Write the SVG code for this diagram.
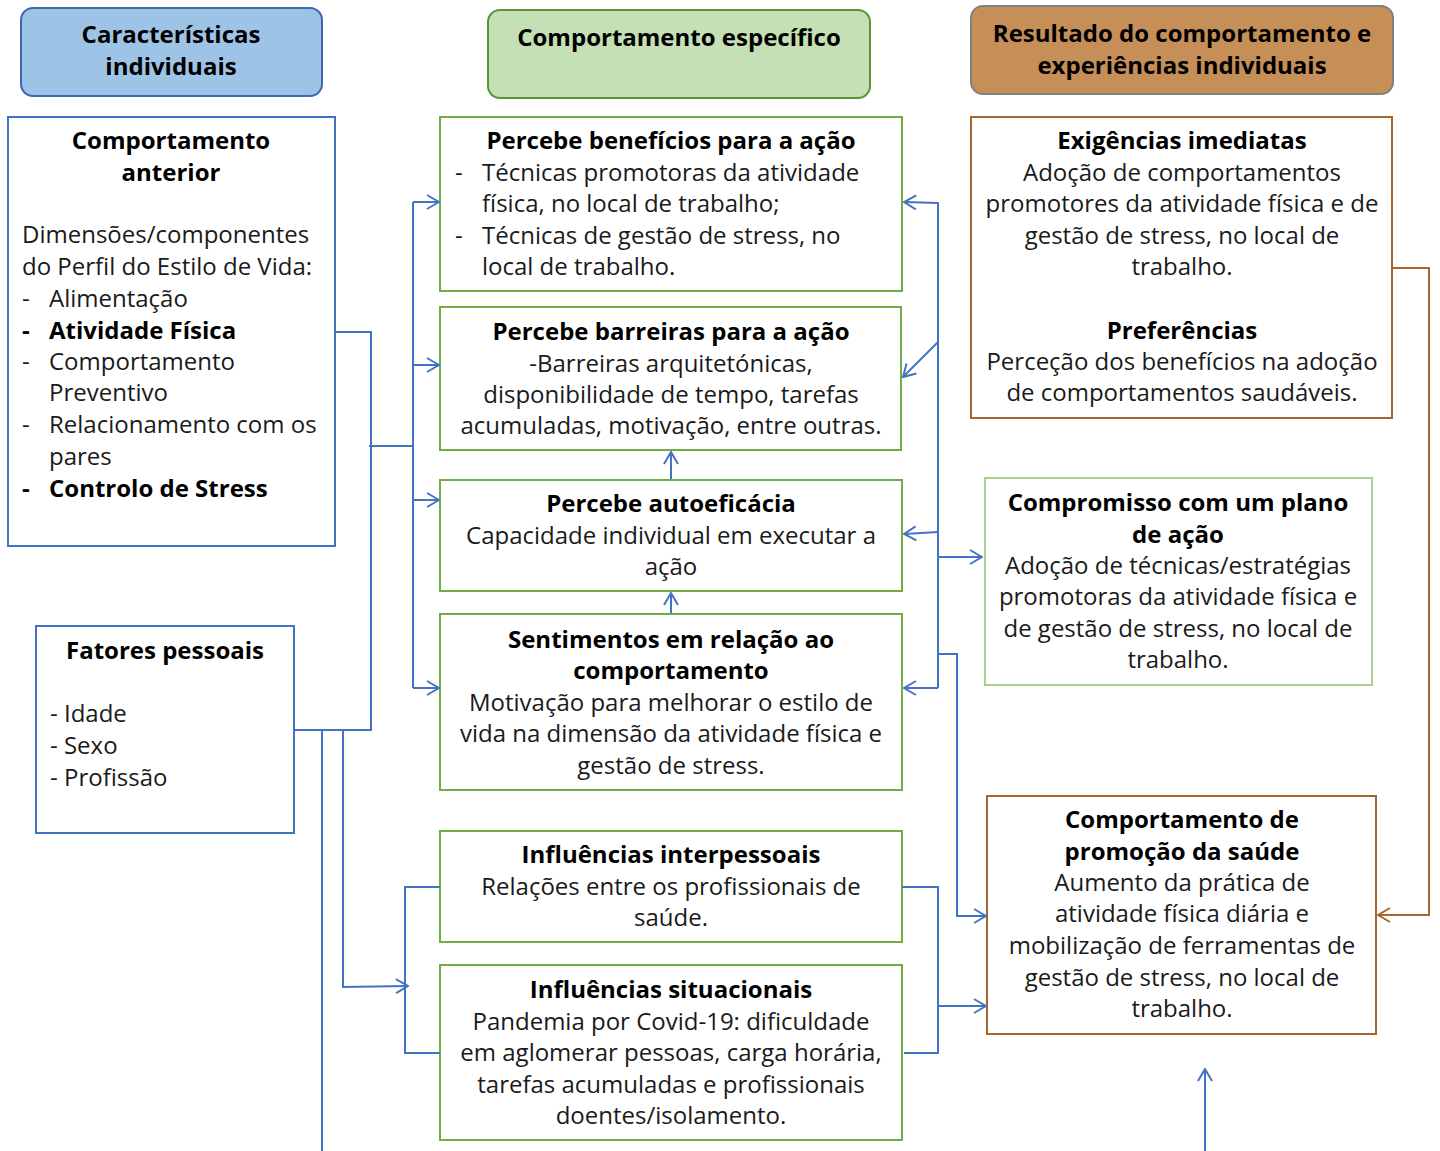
<svg xmlns="http://www.w3.org/2000/svg" width="1440" height="1151" viewBox="0 0 1440 1151">
<defs>
<marker id="ab" viewBox="0 0 14 16" refX="13" refY="8" markerWidth="14" markerHeight="16" markerUnits="userSpaceOnUse" orient="auto">
<path d="M1,1 L13,8 L1,15" fill="none" stroke="#4472c4" stroke-width="2"/>
</marker>
<marker id="ar" viewBox="0 0 14 16" refX="13" refY="8" markerWidth="14" markerHeight="16" markerUnits="userSpaceOnUse" orient="auto">
<path d="M1,1 L13,8 L1,15" fill="none" stroke="#a5662e" stroke-width="2"/>
</marker>
</defs>
<style>
text{font-family:"Open Sans","Noto Sans","DejaVu Sans",sans-serif;font-size:24px;fill:#1a1a1a}
.b{font-weight:bold;fill:#000}
.c{text-anchor:middle}
.hb{fill:#9dc3e6;stroke:#3d67b0;stroke-width:2}
.hg{fill:#c5e0b4;stroke:#5a9438;stroke-width:2}
.ho{fill:#c68f57;stroke:#808080;stroke-width:2}
.bb{fill:#fff;stroke:#4472c4;stroke-width:2}
.gb{fill:#fff;stroke:#70ad47;stroke-width:2}
.lg{fill:#fff;stroke:#a9d18e;stroke-width:2}
.ob{fill:#fff;stroke:#a5662e;stroke-width:2}
.cb{fill:none;stroke:#4472c4;stroke-width:2}
.co{fill:none;stroke:#a5662e;stroke-width:2}
</style>
<rect width="1440" height="1151" fill="#fff"/>

<g id="h1">
<rect class="hb" x="21" y="8" width="301" height="88" rx="12"/>
<text class="b c" x="171" y="43">Características</text>
<text class="b c" x="171" y="75">individuais</text>
</g>
<g id="h2">
<rect class="hg" x="488" y="10" width="382" height="88" rx="12"/>
<text class="b c" x="679" y="46">Comportamento específico</text>
</g>
<g id="h3">
<rect class="ho" x="971" y="6" width="422" height="88" rx="12"/>
<text class="b c" x="1182" y="42">Resultado do comportamento e</text>
<text class="b c" x="1182" y="74">experiências individuais</text>
</g>

<g id="anterior">
<rect class="bb" x="8" y="117" width="327" height="429"/>
<text class="b c" x="171" y="149">Comportamento</text>
<text class="b c" x="171" y="181">anterior</text>
<text x="22" y="243">Dimensões/componentes</text>
<text x="22" y="275">do Perfil do Estilo de Vida:</text>
<text x="22" y="307">-</text><text x="49" y="307">Alimentação</text>
<text class="b" x="22" y="339">-</text><text class="b" x="49" y="339">Atividade Física</text>
<text x="22" y="370">-</text><text x="49" y="370">Comportamento</text>
<text x="49" y="401">Preventivo</text>
<text x="22" y="433">-</text><text x="49" y="433">Relacionamento com os</text>
<text x="49" y="465">pares</text>
<text class="b" x="22" y="497">-</text><text class="b" x="49" y="497">Controlo de Stress</text>
</g>

<g id="fatores">
<rect class="bb" x="36" y="626" width="258" height="207"/>
<text class="b c" x="165" y="659">Fatores pessoais</text>
<text x="50" y="722">- Idade</text>
<text x="50" y="754">- Sexo</text>
<text x="50" y="786">- Profissão</text>
</g>

<g id="beneficios">
<rect class="gb" x="440" y="117" width="462" height="174"/>
<text class="b c" x="671" y="149">Percebe benefícios para a ação</text>
<text x="455" y="181">-</text><text x="482" y="181">Técnicas promotoras da atividade</text>
<text x="482" y="212">física, no local de trabalho;</text>
<text x="455" y="244">-</text><text x="482" y="244">Técnicas de gestão de stress, no</text>
<text x="482" y="275">local de trabalho.</text>
</g>

<g id="barreiras">
<rect class="gb" x="440" y="307" width="461" height="143"/>
<text class="b c" x="671" y="340">Percebe barreiras para a ação</text>
<text class="c" x="671" y="372">-Barreiras arquitetónicas,</text>
<text class="c" x="671" y="403">disponibilidade de tempo, tarefas</text>
<text class="c" x="671" y="434">acumuladas, motivação, entre outras.</text>
</g>

<g id="autoeficacia">
<rect class="gb" x="440" y="480" width="462" height="111"/>
<text class="b c" x="671" y="512">Percebe autoeficácia</text>
<text class="c" x="671" y="544">Capacidade individual em executar a</text>
<text class="c" x="671" y="575">ação</text>
</g>

<g id="sentimentos">
<rect class="gb" x="440" y="614" width="462" height="176"/>
<text class="b c" x="671" y="648">Sentimentos em relação ao</text>
<text class="b c" x="671" y="679">comportamento</text>
<text class="c" x="671" y="711">Motivação para melhorar o estilo de</text>
<text class="c" x="671" y="742">vida na dimensão da atividade física e</text>
<text class="c" x="671" y="774">gestão de stress.</text>
</g>

<g id="interpessoais">
<rect class="gb" x="440" y="831" width="462" height="111"/>
<text class="b c" x="671" y="863">Influências interpessoais</text>
<text class="c" x="671" y="895">Relações entre os profissionais de</text>
<text class="c" x="671" y="926">saúde.</text>
</g>

<g id="situacionais">
<rect class="gb" x="440" y="965" width="462" height="175"/>
<text class="b c" x="671" y="998">Influências situacionais</text>
<text class="c" x="671" y="1030">Pandemia por Covid-19: dificuldade</text>
<text class="c" x="671" y="1061">em aglomerar pessoas, carga horária,</text>
<text class="c" x="671" y="1093">tarefas acumuladas e profissionais</text>
<text class="c" x="671" y="1124">doentes/isolamento.</text>
</g>

<g id="exigencias">
<rect class="ob" x="971" y="117" width="421" height="301"/>
<text class="b c" x="1182" y="149">Exigências imediatas</text>
<text class="c" x="1182" y="181">Adoção de comportamentos</text>
<text class="c" x="1182" y="212">promotores da atividade física e de</text>
<text class="c" x="1182" y="244">gestão de stress, no local de</text>
<text class="c" x="1182" y="275">trabalho.</text>
<text class="b c" x="1182" y="339">Preferências</text>
<text class="c" x="1182" y="370">Perceção dos benefícios na adoção</text>
<text class="c" x="1182" y="401">de comportamentos saudáveis.</text>
</g>

<g id="compromisso">
<rect class="lg" x="985" y="478" width="387" height="207"/>
<text class="b c" x="1178" y="511">Compromisso com um plano</text>
<text class="b c" x="1178" y="543">de ação</text>
<text class="c" x="1178" y="574">Adoção de técnicas/estratégias</text>
<text class="c" x="1178" y="605">promotoras da atividade física e</text>
<text class="c" x="1178" y="637">de gestão de stress, no local de</text>
<text class="c" x="1178" y="668">trabalho.</text>
</g>

<g id="promocao">
<rect class="ob" x="987" y="796" width="389" height="238"/>
<text class="b c" x="1182" y="828">Comportamento de</text>
<text class="b c" x="1182" y="860">promoção da saúde</text>
<text class="c" x="1182" y="891">Aumento da prática de</text>
<text class="c" x="1182" y="922">atividade física diária e</text>
<text class="c" x="1182" y="954">mobilização de ferramentas de</text>
<text class="c" x="1182" y="986">gestão de stress, no local de</text>
<text class="c" x="1182" y="1017">trabalho.</text>
</g>

<g id="connectors">
<!-- left side -->
<polyline class="cb" points="335,332 371,332 371,730 294,730"/>
<line class="cb" x1="369" y1="446" x2="414" y2="446"/>
<line class="cb" x1="413" y1="202" x2="413" y2="688"/>
<line class="cb" x1="413" y1="202" x2="439" y2="202" marker-end="url(#ab)"/>
<line class="cb" x1="413" y1="365" x2="439" y2="365" marker-end="url(#ab)"/>
<line class="cb" x1="413" y1="500" x2="439" y2="500" marker-end="url(#ab)"/>
<line class="cb" x1="413" y1="688" x2="439" y2="688" marker-end="url(#ab)"/>
<line class="cb" x1="322" y1="730" x2="322" y2="1151"/>
<polyline class="cb" points="343,730 343,987 408,986" marker-end="url(#ab)"/>
<polyline class="cb" points="440,887 405,887 405,1053 440,1053"/>
<!-- middle vertical arrows -->
<line class="cb" x1="671" y1="479" x2="671" y2="452" marker-end="url(#ab)"/>
<line class="cb" x1="671" y1="613" x2="671" y2="593" marker-end="url(#ab)"/>
<!-- right side -->
<line class="cb" x1="938" y1="202" x2="938" y2="688"/>
<line class="cb" x1="938" y1="203" x2="904" y2="202" marker-end="url(#ab)"/>
<line class="cb" x1="938" y1="342" x2="903" y2="377" marker-end="url(#ab)"/>
<line class="cb" x1="938" y1="532" x2="904" y2="534" marker-end="url(#ab)"/>
<line class="cb" x1="938" y1="557" x2="982" y2="557" marker-end="url(#ab)"/>
<line class="cb" x1="938" y1="688" x2="904" y2="688" marker-end="url(#ab)"/>
<polyline class="cb" points="938,654 957,654 957,916 986,916" marker-end="url(#ab)"/>
<polyline class="cb" points="902,887 938,887 938,1053 904,1053"/>
<line class="cb" x1="938" y1="1006" x2="986" y2="1006" marker-end="url(#ab)"/>
<line class="cb" x1="1205" y1="1151" x2="1205" y2="1069" marker-end="url(#ab)"/>
<polyline class="co" points="1392,268 1429,268 1429,915 1378,915" marker-end="url(#ar)"/>
</g>
</svg>
